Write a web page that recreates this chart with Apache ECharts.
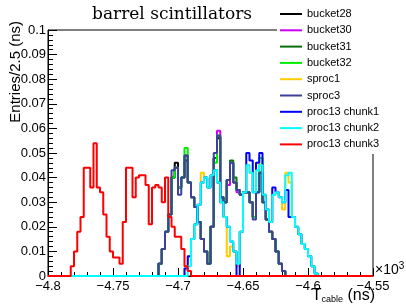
<!DOCTYPE html>
<html>
<head>
<meta charset="utf-8">
<script src="https://cdn.jsdelivr.net/npm/echarts@6/dist/echarts.min.js"></script>
<style>
  html, body { margin: 0; padding: 0; background: #fff; }
  #chart { width: 406px; height: 306px; }
</style>
</head>
<body>
<div id="chart"></div>
<script>
// histogram binning (x in units of 10^3 ns)
const binLo = -4.8;
const binW = 0.0025;
const nBins = 100;

const names = ['bucket28', 'bucket30', 'bucket31', 'bucket32', 'sproc1', 'sproc3',
  'proc13 chunk1', 'proc13 chunk2', 'proc13 chunk3'];
const colors = ['#000000', '#cc00ff', '#0a6e0a', '#00ee00', '#ffcc00', '#3f3fa0',
  '#0000ff', '#00ffff', '#ff0000'];

// first non-empty bin of each histogram
const startBin = [34, 34, 34, 34, 42, 34, 42, 42, 7];

// bin contents from the first non-empty bin
const bucket28 = [0.005, 0.011, 0.018, 0.025, 0.040, 0.046, 0.036, 0.040, 0.047, 0.038,
  0.032, 0.028, 0.022, 0.015, 0.010, 0.005, 0.020, 0.048, 0.056, 0.032,
  0.030, 0.039, 0.046, 0.038, 0.035, 0.033, 0.034, 0.034, 0.030, 0.024,
  0.034, 0.042, 0.030, 0.023, 0.018, 0.015, 0.010, 0.005, 0.002];
const bucket30 = [0.005, 0.011, 0.018, 0.025, 0.040, 0.044, 0.036, 0.040, 0.049, 0.038,
  0.032, 0.028, 0.022, 0.015, 0.010, 0.005, 0.020, 0.048, 0.059, 0.032,
  0.030, 0.037, 0.046, 0.038, 0.034, 0.033, 0.034, 0.034, 0.030, 0.024,
  0.034, 0.042, 0.030, 0.023, 0.018, 0.015, 0.010, 0.005, 0.002];
const bucket31 = [0.005, 0.011, 0.018, 0.025, 0.040, 0.044, 0.036, 0.040, 0.049, 0.038,
  0.032, 0.028, 0.022, 0.015, 0.010, 0.005, 0.020, 0.048, 0.057, 0.032,
  0.030, 0.039, 0.047, 0.040, 0.035, 0.033, 0.034, 0.034, 0.030, 0.024,
  0.034, 0.042, 0.030, 0.023, 0.018, 0.015, 0.010, 0.005, 0.002];
const bucket32 = [0.005, 0.011, 0.018, 0.025, 0.040, 0.044, 0.036, 0.040, 0.052, 0.038,
  0.032, 0.028, 0.022, 0.015, 0.010, 0.005, 0.020, 0.046, 0.057, 0.032,
  0.030, 0.039, 0.046, 0.038, 0.035, 0.033, 0.034, 0.034, 0.030, 0.024,
  0.034, 0.048, 0.030, 0.023, 0.018, 0.015, 0.010, 0.005, 0.002];
const sproc3 = [0.005, 0.011, 0.018, 0.025, 0.043, 0.044, 0.033, 0.040, 0.049, 0.038,
  0.032, 0.028, 0.022, 0.015, 0.010, 0.005, 0.020, 0.050, 0.057, 0.032,
  0.030, 0.039, 0.046, 0.038, 0.035, 0.033, 0.034, 0.034, 0.030, 0.023,
  0.034, 0.042, 0.030, 0.023, 0.018, 0.015, 0.010, 0.005, 0.002];
const sproc1 = [0.003, 0.008, 0.015, 0.021, 0.029, 0.042, 0.040, 0.036, 0.041, 0.043,
  0.038, 0.030, 0.024, 0.008, 0.012, 0.010, 0.004, 0.018, 0.034, 0.045,
  0.042, 0.034, 0.046, 0.045, 0.033, 0.027, 0.022, 0.033, 0.034, 0.032,
  0.027, 0.042, 0.038, 0.024, 0.020, 0.017, 0.013, 0.011, 0.008, 0.004, 0.001];
const chunk1 = [0.003, 0.008, 0.015, 0.021, 0.029, 0.038, 0.040, 0.036, 0.041, 0.043,
  0.038, 0.030, 0.024, 0.020, 0.014, 0.010, 0.000, 0.018, 0.034, 0.050,
  0.047, 0.034, 0.046, 0.050, 0.033, 0.027, 0.022, 0.036, 0.034, 0.032,
  0.030, 0.035, 0.024, 0.024, 0.020, 0.017, 0.013, 0.011, 0.008, 0.004, 0.001];
const chunk2 = [0.000, 0.004, 0.015, 0.021, 0.029, 0.038, 0.040, 0.036, 0.041, 0.043,
  0.038, 0.030, 0.024, 0.020, 0.014, 0.010, 0.005, 0.018, 0.034, 0.045,
  0.042, 0.034, 0.043, 0.045, 0.033, 0.027, 0.022, 0.033, 0.034, 0.032,
  0.030, 0.041, 0.042, 0.024, 0.020, 0.017, 0.013, 0.011, 0.008, 0.004, 0.001];
const chunk3 = [0.004, 0.010, 0.018, 0.024, 0.044, 0.044, 0.036, 0.054, 0.036, 0.034,
  0.025, 0.016, 0.010, 0.0075, 0.0075, 0.005, 0.022, 0.044, 0.044, 0.032,
  0.040, 0.041, 0.041, 0.037, 0.021, 0.036, 0.037, 0.036, 0.030, 0.040,
  0.024, 0.020, 0.016, 0.016, 0.011, 0.004, 0.002];

const contents = [bucket28, bucket30, bucket31, bucket32, sproc1, sproc3, chunk1, chunk2, chunk3];

function histPoints(vals, first) {
  const pts = [];
  for (let i = 0; i < nBins; i++) {
    const k = i - first;
    const v = (k >= 0 && k < vals.length) ? vals[k] : 0;
    pts.push([binLo + i * binW, v]);
  }
  pts.push([binLo + nBins * binW, pts[nBins - 1][1]]);
  return pts;
}

const chart = echarts.init(document.getElementById('chart'));

const series = names.map((n, i) => ({
  name: n,
  type: 'line',
  step: 'end',
  symbol: 'none',
  animation: false,
  data: histPoints(contents[i], startBin[i]),
  lineStyle: { color: colors[i], width: 2 },
  itemStyle: { color: colors[i] },
  z: 2 + i * 0.01
}));

const labelFont = { color: '#000', fontFamily: 'Liberation Sans', fontSize: 13 };

chart.setOption({
  animation: false,
  backgroundColor: '#fff',
  grid: { left: 48, top: 30, right: 33, bottom: 30, show: true, borderColor: '#000', borderWidth: 1 },
  xAxis: {
    type: 'value',
    min: -4.8,
    max: -4.55,
    interval: 0.05,
    axisLine: { lineStyle: { color: '#000', width: 1 } },
    axisTick: { inside: true, length: 8, lineStyle: { color: '#000' } },
    minorTick: { show: true, splitNumber: 5, length: 4, lineStyle: { color: '#000' } },
    splitLine: { show: false },
    axisLabel: Object.assign({
      margin: 4,
      formatter: v => String(Number(v.toFixed(2))).replace('-', '\u2212')
    }, labelFont)
  },
  yAxis: {
    type: 'value',
    min: 0,
    max: 0.1,
    interval: 0.01,
    axisLine: { show: true, lineStyle: { color: '#000', width: 1 } },
    axisTick: { inside: true, length: 9, lineStyle: { color: '#000' } },
    minorTick: { show: true, splitNumber: 5, length: 5, lineStyle: { color: '#000' } },
    splitLine: { show: false },
    axisLabel: Object.assign({
      margin: 2,
      formatter: v => String(Number(v.toFixed(3)))
    }, labelFont)
  },
  legend: {
    orient: 'vertical',
    left: 280,
    top: 7,
    padding: 0,
    itemWidth: 22,
    itemHeight: 2,
    itemGap: 2.3,
    icon: 'rect',
    data: names,
    z: 10,
    textStyle: { color: '#000', fontFamily: 'Liberation Sans', fontSize: 11, lineHeight: 14 }
  },
  graphic: [
    { type: 'rect', z: 5, shape: { x: 277, y: 0, width: 129, height: 154 }, style: { fill: '#fff' } },
    { type: 'text', z: 6, x: 172, y: 15,
      style: { text: 'barrel scintillators', font: '17px "DejaVu Serif"', fill: '#000',
        align: 'center', verticalAlign: 'middle' } },
    { type: 'text', z: 6, x: 16, y: 21, rotation: Math.PI / 2,
      style: { text: 'Entries/2.5 (ns)', font: '15px "Liberation Sans"', fill: '#000',
        align: 'right', verticalAlign: 'middle' } },
    { type: 'text', z: 6, x: 375, y: 296,
      style: {
        text: '{t|T}{s|cable}{n| (ns)}', align: 'right', verticalAlign: 'middle', fill: '#000',
        rich: {
          t: { fontFamily: 'Liberation Sans', fontSize: 16, fill: '#000' },
          s: { fontFamily: 'Liberation Sans', fontSize: 9, fill: '#000', padding: [8, 0, 0, 0] },
          n: { fontFamily: 'Liberation Sans', fontSize: 16, fill: '#000' }
        }
      } },
    { type: 'text', z: 6, x: 375, y: 270,
      style: {
        text: '{a|\u00d710}{b|3}', align: 'left', verticalAlign: 'middle', fill: '#000',
        rich: {
          a: { fontFamily: 'Liberation Sans', fontSize: 14, fill: '#000' },
          b: { fontFamily: 'Liberation Sans', fontSize: 10, fill: '#000', padding: [0, 0, 8, 0] }
        }
      } }
  ],
  series: series
});
</script>
</body>
</html>
